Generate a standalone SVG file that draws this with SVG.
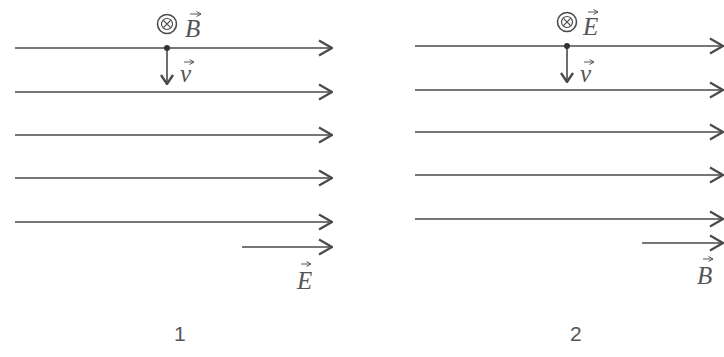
<svg xmlns="http://www.w3.org/2000/svg" width="724" height="357" viewBox="0 0 724 357">
<style>
.fl{stroke:#4a4a4a;stroke-width:1.6;fill:none}
.lbl{font-family:"Liberation Serif",serif;font-style:italic;font-size:25px;fill:#555}
.num{font-family:"Liberation Sans",sans-serif;font-size:21px;fill:#555}
.vec{stroke:#555;stroke-width:1;fill:none}
</style>
<defs>
<marker id="ah" viewBox="0 0 16 18" refX="15" refY="9" markerWidth="16" markerHeight="18" markerUnits="userSpaceOnUse" orient="auto">
<path d="M2,1.5 L15,9 L2,16.5" fill="none" stroke="#4a4a4a" stroke-width="2.2"/>
</marker>
<marker id="ahv" viewBox="0 0 12 14" refX="11" refY="7" markerWidth="12" markerHeight="14" markerUnits="userSpaceOnUse" orient="auto">
<path d="M2,1 L11,7 L2,13" fill="none" stroke="#4a4a4a" stroke-width="2.4"/>
</marker>
<marker id="ahs" viewBox="0 0 6 6" refX="5.5" refY="3" markerWidth="6" markerHeight="6" markerUnits="userSpaceOnUse" orient="auto">
<path d="M1,0.5 L5.5,3 L1,5.5" fill="none" stroke="#555" stroke-width="1"/>
</marker>
<g id="otimes">
<circle r="9.5" fill="none" stroke="#4a4a4a" stroke-width="1.6"/>
<circle r="5.5" fill="none" stroke="#4a4a4a" stroke-width="1.2"/>
<path d="M-3.6,-3.6 L3.6,3.6 M-3.6,3.6 L3.6,-3.6" stroke="#4a4a4a" stroke-width="1.2"/>
</g>
</defs>
<g id="connectors">
<line class="fl" x1="15" y1="48" x2="332" y2="48" marker-end="url(#ah)"/>
<line class="fl" x1="15" y1="92" x2="332" y2="92" marker-end="url(#ah)"/>
<line class="fl" x1="15" y1="135" x2="332" y2="135" marker-end="url(#ah)"/>
<line class="fl" x1="15" y1="178" x2="332" y2="178" marker-end="url(#ah)"/>
<line class="fl" x1="15" y1="222" x2="332" y2="222" marker-end="url(#ah)"/>
<line class="fl" x1="242" y1="247" x2="332" y2="247" marker-end="url(#ah)"/>
<line class="fl" x1="167" y1="48" x2="167" y2="84" marker-end="url(#ahv)"/>
<line class="fl" x1="415" y1="46" x2="723" y2="46" marker-end="url(#ah)"/>
<line class="fl" x1="415" y1="90" x2="723" y2="90" marker-end="url(#ah)"/>
<line class="fl" x1="415" y1="132" x2="723" y2="132" marker-end="url(#ah)"/>
<line class="fl" x1="415" y1="175" x2="723" y2="175" marker-end="url(#ah)"/>
<line class="fl" x1="415" y1="219" x2="723" y2="219" marker-end="url(#ah)"/>
<line class="fl" x1="642" y1="243" x2="723" y2="243" marker-end="url(#ah)"/>
<line class="fl" x1="567" y1="46" x2="567" y2="82" marker-end="url(#ahv)"/>
</g>
<g id="panel1-labels">
<use href="#otimes" x="167" y="24"/>
<circle cx="167" cy="48" r="3" fill="#333"/>
<text class="lbl" x="185" y="37">B</text>
<line class="vec" x1="190" y1="14" x2="201" y2="14" marker-end="url(#ahs)"/>
<text class="lbl" x="180" y="82">v</text>
<line class="vec" x1="184" y1="62" x2="194" y2="62" marker-end="url(#ahs)"/>
<text class="lbl" x="297" y="289">E</text>
<line class="vec" x1="301" y1="264" x2="311" y2="264" marker-end="url(#ahs)"/>
<text class="num" x="174" y="341">1</text>
</g>
<g id="panel2-labels">
<use href="#otimes" x="567" y="22"/>
<circle cx="567" cy="46" r="3" fill="#333"/>
<text class="lbl" x="583" y="35">E</text>
<line class="vec" x1="588" y1="12" x2="598" y2="12" marker-end="url(#ahs)"/>
<text class="lbl" x="580" y="82">v</text>
<line class="vec" x1="584" y1="62" x2="594" y2="62" marker-end="url(#ahs)"/>
<text class="lbl" x="697" y="284">B</text>
<line class="vec" x1="703" y1="259" x2="713" y2="259" marker-end="url(#ahs)"/>
<text class="num" x="570" y="341">2</text>
</g>
</svg>
